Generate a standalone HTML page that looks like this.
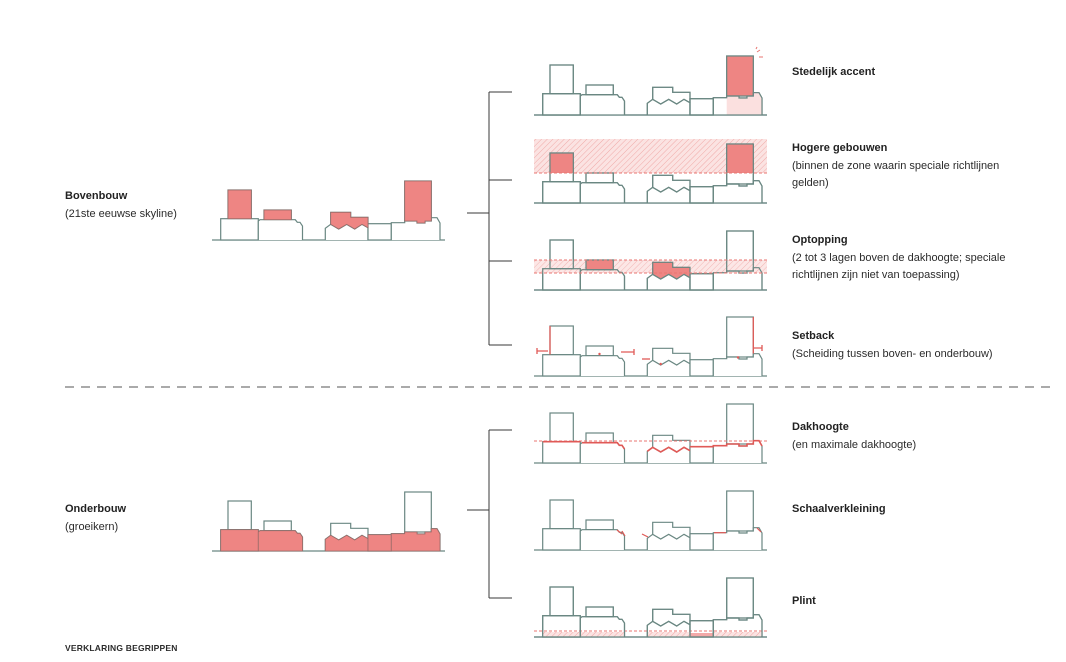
<!DOCTYPE html>
<html><head><meta charset="utf-8">
<style>
html,body{margin:0;padding:0;background:#fff;}
body{width:1066px;height:662px;overflow:hidden;position:relative;font-family:"Liberation Sans",sans-serif;color:#2b2b2b;}
.t{position:absolute;font-size:11px;line-height:17.5px;white-space:nowrap;}
.t b{font-weight:bold;color:#222;}
</style></head><body>
<svg width="1066" height="662" style="position:absolute;left:0;top:0">
<defs>
<pattern id="h" patternUnits="userSpaceOnUse" width="4" height="4" patternTransform="rotate(45)">
<rect width="4" height="4" fill="#fbe3e2"/><line x1="0" y1="0" x2="0" y2="4" stroke="#f0a9a7" stroke-width="1"/>
</pattern>
<g id="sky" fill="#fff" stroke="#6a8782" stroke-width="1.2">
<path d="M0 0H233" fill="none"/>
<rect x="16" y="-50" width="23.3" height="28.7"/>
<rect x="8.7" y="-21.3" width="37.6" height="21.3"/>
<rect x="52" y="-30" width="27.3" height="9.7"/>
<path d="M46.3 0V-19L48 -20.3H83.3L85.3 -17.7H88L90.5 -14V0"/>
<path d="M118.7 -15.7V-27.7H138.7V-22.7H156V-12.3"/>
<path d="M113.3 0V-11.7L118.7 -15.7L126.7 -11L134.7 -15.7L142.7 -11L150 -15.7L156 -12.3V0"/>
<rect x="156" y="-16.3" width="23.3" height="16.3"/>
<rect x="192.7" y="-59" width="26.6" height="40"/>
<path d="M179.3 0V-17.3H192.7V-19H205V-17H213V-19H219.3V-22.3H225L228 -17V0"/>
</g>
<g id="skyo" fill="none" stroke="#6a8782" stroke-width="1.2">
<path d="M0 0H233"/>
<rect x="16" y="-50" width="23.3" height="28.7"/>
<rect x="8.7" y="-21.3" width="37.6" height="21.3"/>
<rect x="52" y="-30" width="27.3" height="9.7"/>
<path d="M46.3 0V-19L48 -20.3H83.3L85.3 -17.7H88L90.5 -14V0"/>
<path d="M118.7 -15.7V-27.7H138.7V-22.7H156V-12.3"/>
<path d="M113.3 0V-11.7L118.7 -15.7L126.7 -11L134.7 -15.7L142.7 -11L150 -15.7L156 -12.3V0"/>
<rect x="156" y="-16.3" width="23.3" height="16.3"/>
<rect x="192.7" y="-59" width="26.6" height="40"/>
<path d="M179.3 0V-17.3H192.7V-19H205V-17H213V-19H219.3V-22.3H225L228 -17V0"/>
</g>
</defs>

<!-- left top: Bovenbouw -->
<g transform="translate(212,240)">
<use href="#sky"/>
<g fill="#ee8583" stroke="#9a6b68" stroke-width="0.8">
<rect x="16" y="-50" width="23.3" height="28.7"/>
<rect x="52" y="-30" width="27.3" height="9.7"/>
<path d="M118.7 -15.7V-27.7H138.7V-22.7H156V-12.3L150 -15.7L142.7 -11L134.7 -15.7L126.7 -11Z"/>
<path d="M192.7 -59H219.3V-19H213V-17H205V-19H192.7Z"/>
</g>
</g>

<!-- left bottom: Onderbouw -->
<g transform="translate(212,551)">
<use href="#sky"/>
<g fill="#ee8583" stroke="#9a6b68" stroke-width="0.8">
<rect x="8.7" y="-21.3" width="37.6" height="21.3"/>
<path d="M46.3 0V-19L48 -20.3H83.3L85.3 -17.7H88L90.5 -14V0Z"/>
<path d="M113.3 0V-11.7L118.7 -15.7L126.7 -11L134.7 -15.7L142.7 -11L150 -15.7L156 -12.3V0Z"/>
<rect x="156" y="-16.3" width="23.3" height="16.3"/>
<path d="M179.3 0V-17.3H192.7V-19H205V-17H213V-19H219.3V-22.3H225L228 -17V0Z"/>
</g>
</g>

<!-- row1 Stedelijk accent -->
<g transform="translate(534,115)">
<use href="#sky"/>
<path d="M192.7 0V-19H205V-17H213V-19H219.3V-22.3H225L228 -17V0Z" fill="#fbe0df" stroke="none"/>
<rect x="192.7" y="-59" width="26.6" height="40" fill="#ee8583"/>
<use href="#skyo"/>
<path d="M223 -63l3 -2M225 -58l4 0M222 -66l1 -2" stroke="#e87672" stroke-width="1"/>
</g>

<!-- row2 Hogere gebouwen -->
<g transform="translate(534,203)">
<rect x="0" y="-64" width="233" height="34" fill="url(#h)"/>
<use href="#sky"/>
<rect x="16" y="-50" width="23.3" height="20" fill="#ee8583"/>
<rect x="192.7" y="-59" width="26.6" height="29" fill="#ee8583"/>
<use href="#skyo"/>
<line x1="0" y1="-30" x2="233" y2="-30" stroke="#e87672" stroke-dasharray="3,2"/>
</g>

<!-- row3 Optopping -->
<g transform="translate(534,290)">
<use href="#sky"/>
<rect x="0" y="-30" width="233" height="13" fill="url(#h)" opacity="0.85"/>
<g fill="#ee8583" stroke="#9a6b68" stroke-width="0.8">
<rect x="52" y="-30" width="27.3" height="9.7"/>
<path d="M118.7 -15.7V-27.7H138.7V-22.7H156V-12.3L150 -15.7L142.7 -11L134.7 -15.7L126.7 -11Z"/>
</g>
<use href="#skyo"/>
<line x1="0" y1="-30" x2="233" y2="-30" stroke="#e87672" stroke-dasharray="3,2"/>
<line x1="0" y1="-17" x2="233" y2="-17" stroke="#e87672" stroke-dasharray="3,2"/>
</g>

<!-- row4 Setback -->
<g transform="translate(534,376)">
<use href="#sky"/>
<g stroke="#e05a57" stroke-width="1.3" fill="none">
<path d="M16 -50V-21.5"/>
<path d="M3 -25H14M3 -28V-22"/>
<path d="M87 -24H100M100 -27V-21"/>
<path d="M108 -17H116"/>
<path d="M219.3 -59V-22.5"/>
<path d="M220 -28H228M228 -31V-25"/>
</g>
<g fill="#e05a57"><circle cx="65.5" cy="-22" r="1.2"/><circle cx="126.7" cy="-12" r="1.2"/><circle cx="204" cy="-18.5" r="1.2"/></g>
</g>

<!-- row5 Dakhoogte -->
<g transform="translate(534,463)">
<use href="#sky"/>
<line x1="0" y1="-22" x2="233" y2="-22" stroke="#e87672" stroke-dasharray="3,2"/>
<g stroke="#e05a57" stroke-width="1.6" fill="none">
<path d="M8.7 -21.3H46.3"/>
<path d="M48 -20.3H83.3L85.3 -17.7H88L90.5 -14"/>
<path d="M113.3 -11.7L118.7 -15.7L126.7 -11L134.7 -15.7L142.7 -11L150 -15.7L156 -12.3"/>
<path d="M156 -16.3H179.3V-17.3H192.7V-19H205V-17H213V-19H219.3V-22.3H225L228 -17"/>
</g>
</g>

<!-- row6 Schaalverkleining -->
<g transform="translate(534,550)">
<use href="#sky"/>
<g stroke="#e05a57" stroke-width="1.2" fill="none">
<path d="M83 -20L88 -16M88 -19L91 -14"/>
<path d="M108 -16L114 -13"/>
<path d="M180 -17.3H192"/>
<path d="M223 -22L227 -18"/>
</g>
</g>

<!-- row7 Plint -->
<g transform="translate(534,637)">
<use href="#sky"/>
<g fill="url(#h)"><rect x="9" y="-5" width="37" height="5"/><rect x="47" y="-5" width="43" height="5"/><rect x="114" y="-5" width="42" height="5"/><rect x="180" y="-5" width="48" height="5"/></g>
<rect x="156" y="-4" width="23.3" height="4" fill="#ee8583" opacity="0.7"/>
<line x1="0" y1="-6" x2="233" y2="-6" stroke="#e87672" stroke-dasharray="3,2"/>
<use href="#skyo"/>
</g>

<!-- brackets -->
<g stroke="#3a3a3a" stroke-width="1" fill="none">
<path d="M467 213H489M489 92V345M489 92H512M489 180H512M489 261H512M489 345H512"/>
<path d="M467 510H489M489 430V598M489 430H512M489 598H512"/>
</g>
<line x1="65" y1="387" x2="1057" y2="387" stroke="#555" stroke-width="1" stroke-dasharray="9,7"/>
</svg>

<div class="t" style="left:65px;top:188px"><b>Bovenbouw</b><br>(21ste eeuwse skyline)</div>
<div class="t" style="left:65px;top:501px"><b>Onderbouw</b><br>(groeikern)</div>
<div class="t" style="left:792px;top:64px"><b>Stedelijk accent</b></div>
<div class="t" style="left:792px;top:140px"><b>Hogere gebouwen</b><br>(binnen de zone waarin speciale richtlijnen<br>gelden)</div>
<div class="t" style="left:792px;top:232px"><b>Optopping</b><br>(2 tot 3 lagen boven de dakhoogte; speciale<br>richtlijnen zijn niet van toepassing)</div>
<div class="t" style="left:792px;top:328px"><b>Setback</b><br>(Scheiding tussen boven- en onderbouw)</div>
<div class="t" style="left:792px;top:419px"><b>Dakhoogte</b><br>(en maximale dakhoogte)</div>
<div class="t" style="left:792px;top:501px"><b>Schaalverkleining</b></div>
<div class="t" style="left:792px;top:593px"><b>Plint</b></div>
<div class="t" style="left:65px;top:640px;font-size:8.5px;font-weight:bold;letter-spacing:0.2px">VERKLARING BEGRIPPEN</div>
</body></html>
